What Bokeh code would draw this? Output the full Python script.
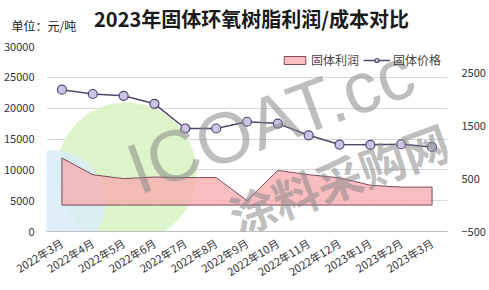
import numpy as np
from bokeh.plotting import figure
from bokeh.models import (Range1d, LinearAxis, FixedTicker, Legend, LegendItem,
                          Label, PolyAnnotation, FactorRange)
from bokeh.embed import file_html
from bokeh.resources import INLINE

months = ["2022年3月", "2022年4月", "2022年5月", "2022年6月", "2022年7月", "2022年8月",
          "2022年9月", "2022年10月", "2022年11月", "2022年12月", "2023年1月", "2023年2月", "2023年3月"]
price = [23000, 22300, 22000, 20700, 16700, 16700, 17800, 17500, 15600, 14100, 14050, 14150, 13700]
profit = [890, 575, 500, 530, 520, 520, 85, 655, 575, 515, 375, 340, 340]
left_ticks = [0, 5000, 10000, 15000, 20000, 25000, 30000]
right_ticks = [-500, 500, 1500, 2500]

FONT = "Noto Sans CJK SC"

p = figure(width=489, height=290, x_range=FactorRange(*months), y_range=Range1d(0, 30000),
           output_backend="svg", toolbar_location=None,
           min_border_left=40, min_border_right=42, min_border_top=46, min_border_bottom=59)
p.outline_line_color = None
p.background_fill_color = "white"
p.extra_y_ranges = {"right": Range1d(-500, 3000)}

# background decoration circles (frame-relative screen coords)
def circ(cx, cy, r):
    t = np.linspace(0, 2 * np.pi, 80)
    return list(cx - 40 + r * np.cos(t)), list(231 - cy + r * np.sin(t))

for (cx, cy, r, col) in [(120, 172, 70, "#d8f3c2"), (47, 202, 52, "#d8ecf8")]:
    xs, ys = circ(cx, cy, r)
    p.add_layout(PolyAnnotation(xs=xs, ys=ys, xs_units="screen", ys_units="screen",
                                fill_color=col, fill_alpha=0.85, line_color=None, level="underlay"))

# profit area (right axis)
area = p.patch(x=months + months[::-1], y=profit + [0] * len(months), y_range_name="right",
               fill_color="#f8a8ac", fill_alpha=0.75, line_color="#7a4a5a", line_width=1)

# price line (left axis)
ln = p.line(months, price, line_color="#51466c", line_width=1.5)
sc = p.scatter(months, price, size=9, fill_color="#cbc4e6", line_color="#51466c", line_width=1.2)

# axes
p.yaxis.ticker = FixedTicker(ticks=left_ticks)
p.yaxis.axis_line_color = None
p.yaxis.major_tick_line_color = None
p.yaxis.minor_tick_line_color = None
p.yaxis.major_label_text_font = FONT
p.yaxis.major_label_text_font_size = "11px"
p.yaxis.major_label_text_color = "#333333"
p.yaxis.major_label_standoff = 6

ra = LinearAxis(y_range_name="right", ticker=FixedTicker(ticks=right_ticks),
                axis_line_color=None, major_tick_line_color=None, minor_tick_line_color=None,
                major_label_text_font=FONT, major_label_text_font_size="11px",
                major_label_text_color="#333333", major_label_standoff=8)
p.add_layout(ra, "right")

p.xaxis.axis_line_color = "#bfbfbf"
p.xaxis.major_tick_line_color = None
p.xaxis.major_label_orientation = 0.55
p.xaxis.major_label_text_font = FONT
p.xaxis.major_label_text_font_size = "11px"
p.xaxis.major_label_text_color = "#333333"
p.xaxis.major_label_standoff = 4

p.xgrid.grid_line_color = None
p.ygrid.grid_line_color = "#d9d9d9"
p.ygrid.ticker = FixedTicker(ticks=left_ticks)

# watermark
p.add_layout(Label(x=224, y=111, x_units="screen", y_units="screen", text="ICOAT.cc",
                   angle=0.35, text_align="center", text_baseline="middle",
                   text_font="Liberation Sans", text_font_size="72px",
                   text_color="#888888", text_alpha=0.55))
p.add_layout(Label(x=292, y=54, x_units="screen", y_units="screen", text="涂料采购网",
                   angle=0.35, text_align="center", text_baseline="middle",
                   text_font=FONT, text_font_style="bold", text_font_size="46px",
                   text_color="#888888", text_alpha=0.55))

# title and unit (outside the frame, in the top panel)
p.add_layout(Label(x=205, y=14, x_units="screen", y_units="screen",
                   text="2023年固体环氧树脂利润/成本对比", text_align="center",
                   text_font=FONT, text_font_style="bold", text_font_size="20px",
                   text_color="#1a1a1a"), "above")
p.add_layout(Label(x=-35, y=-16, x_units="screen", y_units="screen", text="单位：元/吨",
                   text_font=FONT, text_font_size="12px", text_color="#1a1a1a"), "above")

legend = Legend(items=[LegendItem(label="固体利润", renderers=[area]),
                       LegendItem(label="固体价格", renderers=[ln, sc])],
                location=(235, 163), orientation="horizontal",
                background_fill_alpha=0, border_line_color=None,
                label_text_font=FONT, label_text_font_size="12px",
                glyph_width=27, glyph_height=10, padding=0, margin=0, spacing=4,
                label_standoff=3)
p.add_layout(legend)

open("out.html", "w").write(file_html(p, INLINE))
